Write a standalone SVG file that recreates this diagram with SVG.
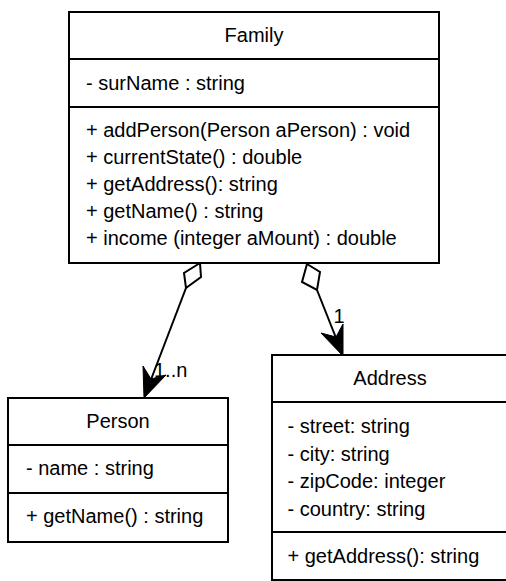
<svg xmlns="http://www.w3.org/2000/svg" width="506" height="581" viewBox="0 0 506 581">
<style>
.box{fill:#fff;stroke:#000;stroke-width:2}
.div{stroke:#000;stroke-width:2}
text{font-family:"Liberation Sans",Arial,sans-serif;font-size:20px;fill:#000}
.c{text-anchor:middle}
.line{stroke:#000;stroke-width:2;fill:none}
.dia{fill:#fff;stroke:#000;stroke-width:2;stroke-linejoin:miter}
.head{fill:#000;stroke:#000;stroke-width:1;stroke-linejoin:miter}
</style>
<rect width="506" height="581" fill="#fff"/>
<g id="connectors">
  <line class="line" x1="186" y1="288" x2="147" y2="390"/>
  <polygon class="dia" points="200,263 184,273 186,288 201,277"/>
  <polygon class="head" points="144,398 143,366 151,379 166,375"/>
  <text x="154" y="377">1..n</text>
  <line class="line" x1="317" y1="290" x2="340" y2="348"/>
  <polygon class="dia" points="307,264 320,272 317,290 302,282"/>
  <polygon class="head" points="343,356 343,324 336,337 321,333"/>
  <text x="333.5" y="323">1</text>
</g>
<g id="Family">
  <rect class="box" x="69" y="12" width="370" height="251"/>
  <line class="div" x1="69" y1="59" x2="439" y2="59"/>
  <line class="div" x1="69" y1="107" x2="439" y2="107"/>
  <text class="c" x="254" y="41.5">Family</text>
  <text x="86" y="90">- surName : string</text>
  <text x="86" y="137">+ addPerson(Person aPerson) : void</text>
  <text x="86" y="164">+ currentState() : double</text>
  <text x="86" y="191">+ getAddress(): string</text>
  <text x="86" y="218">+ getName() : string</text>
  <text x="86" y="245">+ income (integer aMount) : double</text>
</g>
<g id="Person">
  <rect class="box" x="8" y="398" width="220" height="144"/>
  <line class="div" x1="8" y1="445" x2="228" y2="445"/>
  <line class="div" x1="8" y1="493" x2="228" y2="493"/>
  <text class="c" x="118" y="428">Person</text>
  <text x="26" y="475">- name : string</text>
  <text x="26" y="523">+ getName() : string</text>
</g>
<g id="Address">
  <rect class="box" x="272" y="355" width="236" height="225"/>
  <line class="div" x1="272" y1="402" x2="508" y2="402"/>
  <line class="div" x1="272" y1="532" x2="508" y2="532"/>
  <text class="c" x="390" y="385">Address</text>
  <text x="287.5" y="433">- street: string</text>
  <text x="287.5" y="460.5">- city: string</text>
  <text x="287.5" y="488">- zipCode: integer</text>
  <text x="287.5" y="515.5">- country: string</text>
  <text x="287.5" y="563">+ getAddress(): string</text>
</g>
</svg>
